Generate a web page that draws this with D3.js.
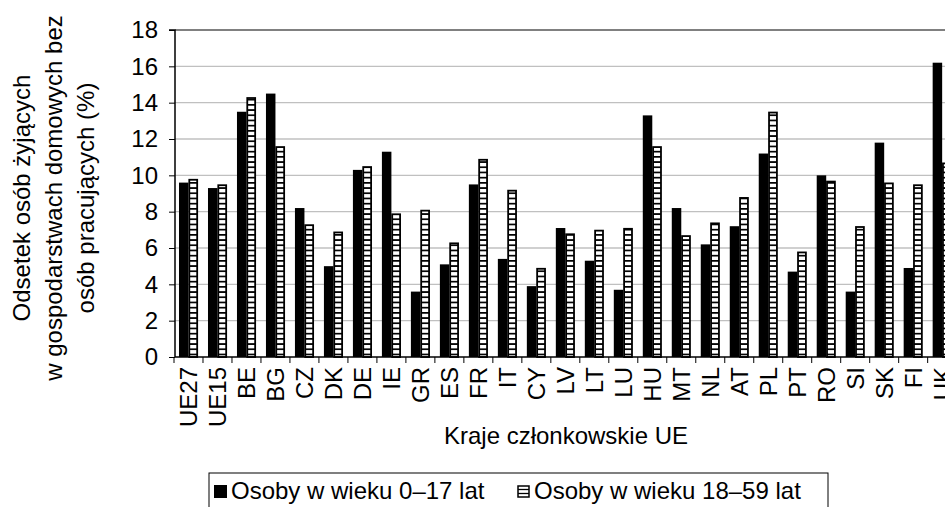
<!DOCTYPE html>
<html><head><meta charset="utf-8">
<script src="https://cdn.jsdelivr.net/npm/d3@7"></script>
<style>html,body{margin:0;padding:0;background:#fff;overflow:hidden}</style>
</head><body>
<svg id="c" width="945" height="507"></svg>
<script>
const categories = ["UE27","UE15","BE","BG","CZ","DK","DE","IE","GR","ES","FR","IT","CY","LV","LT","LU","HU","MT","NL","AT","PL","PT","RO","SI","SK","FI","UK"];
const children = [9.6,9.3,13.5,14.5,8.2,5.0,10.3,11.3,3.6,5.1,9.5,5.4,3.9,7.1,5.3,3.7,13.3,8.2,6.2,7.2,11.2,4.7,10.0,3.6,11.8,4.9,16.2];
const adults   = [9.8,9.5,14.3,11.6,7.3,6.9,10.5,7.9,8.1,6.3,10.9,9.2,4.9,6.8,7.0,7.1,11.6,6.7,7.4,8.8,13.5,5.8,9.7,7.2,9.6,9.5,10.7];
const seriesNames = ["Osoby w wieku 0–17 lat","Osoby w wieku 18–59 lat"];
const yTicks = [0,2,4,6,8,10,12,14,16,18];
const yTitle = ["Odsetek osób żyjących","w gospodarstwach domowych bez","osób pracujących (%)"];
const xTitle = "Kraje członkowskie UE";

const svg = d3.select("#c");
const font = "'Liberation Sans', Arial, sans-serif";
const pLeft = 175, pTop = 30, pBottom = 357, pRight = 175 + 27*28.95;

const defs = svg.append("defs");
const pat = defs.append("pattern").attr("id","stripe").attr("patternUnits","userSpaceOnUse")
  .attr("width",8).attr("height",5.2);
pat.append("rect").attr("width",8).attr("height",5.2).attr("fill","#fff");
pat.append("rect").attr("y",0).attr("width",8).attr("height",1.7).attr("fill","#000");

const x = d3.scaleBand().domain(categories).range([pLeft-1, pRight]).paddingInner(0.345).paddingOuter(0.1725);
const xs = d3.scaleBand().domain([0,1]).range([0, x.bandwidth()]);
const y = d3.scaleLinear().domain([0,18]).range([pBottom, pTop]);

// gridlines
svg.append("g").selectAll("line").data(yTicks.filter(t=>t>0 && t<18)).join("line")
  .attr("x1",pLeft).attr("x2",945).attr("y1",d=>y(d)).attr("y2",d=>y(d))
  .attr("stroke","#c0c0c0").attr("stroke-width",1.3);
svg.append("line").attr("x1",pLeft).attr("x2",945).attr("y1",y(18)).attr("y2",y(18))
  .attr("stroke","#808080").attr("stroke-width",2);

// bars
const g = svg.append("g");
g.selectAll("rect.c").data(categories).join("rect").attr("class","c")
  .attr("x",d=>x(d)).attr("width",xs.bandwidth())
  .attr("y",(d,i)=>y(children[i])).attr("height",(d,i)=>y(0)-y(children[i]))
  .attr("fill","#000");
g.selectAll("rect.a").data(categories).join("rect").attr("class","a")
  .attr("x",d=>x(d)+xs(1)+0.8).attr("width",xs.bandwidth()-1.6)
  .attr("y",(d,i)=>y(adults[i])+0.8).attr("height",(d,i)=>y(0)-y(adults[i])-0.8)
  .attr("fill","url(#stripe)").attr("stroke","#000").attr("stroke-width",1.8);

// y axis
const ya = svg.append("g").attr("transform",`translate(${pLeft},0)`)
  .call(d3.axisLeft(y).tickValues(yTicks).tickSize(6).tickPadding(11));
ya.select(".domain").attr("stroke","#000").attr("stroke-width",1.5).attr("d",`M-6,${pTop}H0V${pBottom}`);
ya.selectAll("text").attr("font-family",font).attr("font-size",24).attr("fill","#000");
ya.selectAll("line").attr("stroke","#000");

// x axis
const xa = svg.append("g").attr("transform",`translate(0,${pBottom})`)
  .call(d3.axisBottom(x).tickSize(0).tickPadding(0));
xa.select(".domain").remove();
xa.selectAll(".tick text").attr("font-family",font).attr("font-size",24).attr("fill","#000")
  .attr("transform","rotate(-90)").attr("text-anchor","end").attr("x",-10).attr("y",0).attr("dy","0.36em");
svg.append("line").attr("x1",pLeft).attr("x2",945).attr("y1",pBottom).attr("y2",pBottom).attr("stroke","#000").attr("stroke-width",1.5);
const bounds = categories.map(c=>x(c) - x.step()*x.paddingInner()/2);
svg.append("g").selectAll("line").data(bounds).join("line")
  .attr("x1",d=>d).attr("x2",d=>d).attr("y1",pBottom).attr("y2",pBottom+6).attr("stroke","#000");

// titles
const yt = svg.append("text").attr("transform","translate(0,198) rotate(-90)")
  .attr("font-family",font).attr("font-size",24).attr("text-anchor","middle").attr("fill","#000");
yTitle.forEach((t,i)=>yt.append("tspan").attr("x",0).attr("y",30+i*32).text(t));
svg.append("text").attr("x",566).attr("y",444).attr("text-anchor","middle")
  .attr("font-family",font).attr("font-size",24).attr("fill","#000").text(xTitle);

// legend
const lg = svg.append("g");
lg.append("rect").attr("x",209).attr("y",473).attr("width",619).attr("height",50)
  .attr("fill","#fff").attr("stroke","#000").attr("stroke-width",1);
const lx = [214, 517];
seriesNames.forEach((s,i)=>{
  if(i===0){
    lg.append("rect").attr("x",lx[i]).attr("y",485).attr("width",13).attr("height",13).attr("fill","#000");
  } else {
    lg.append("rect").attr("x",lx[i]+1).attr("y",486).attr("width",11).attr("height",11)
      .attr("fill","#fff").attr("stroke","#000").attr("stroke-width",1.5);
    lg.append("line").attr("x1",lx[i]+1).attr("x2",lx[i]+12).attr("y1",489.5).attr("y2",489.5).attr("stroke","#000").attr("stroke-width",1.3);
    lg.append("line").attr("x1",lx[i]+1).attr("x2",lx[i]+12).attr("y1",493.5).attr("y2",493.5).attr("stroke","#000").attr("stroke-width",1.3);
  }
  lg.append("text").attr("x",lx[i]+17).attr("y",499).attr("font-family",font).attr("font-size",24)
    .attr("fill","#000").text(s);
});
</script>
</body></html>
